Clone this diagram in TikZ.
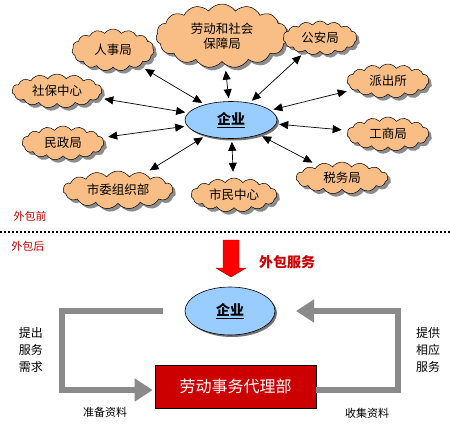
\documentclass[tikz,border=0pt]{standalone}
\usepackage{fontspec}
\setmainfont{Noto Sans CJK SC}
\usetikzlibrary{shapes.symbols,shapes.geometric,arrows.meta,shadows}
\definecolor{peach}{HTML}{F9BE86}
\definecolor{skyb}{HTML}{99CCFF}
\definecolor{darkred}{HTML}{CC0000}
\definecolor{garr}{HTML}{8A8A8A}
\tikzset{
  cloudbox/.style={cloud, cloud puffs=15, cloud puff arc=110, cloud ignores aspect,
    draw=black, line width=0.5pt, fill=peach, inner sep=0pt, font=\fontsize{12.5}{15}\selectfont,
    align=center, drop shadow={shadow xshift=3pt, shadow yshift=-3pt, fill=black!45, opacity=1}},
  ent/.style={ellipse, draw=black, line width=0.6pt, fill=skyb, inner sep=0pt,
    font=\fontsize{14}{16}\selectfont\bfseries,
    drop shadow={shadow xshift=2pt, shadow yshift=-2pt, fill=black!55, opacity=1}},
  dbl/.style={{Triangle[length=9pt,width=8pt]}-{Triangle[length=9pt,width=8pt]}, line width=0.7pt, shorten <=3pt, shorten >=6pt},
  garrow/.style={draw=garr, line width=6pt, -{Triangle[length=18pt,width=22pt]}},
  redlbl/.style={text=darkred, font=\fontsize{11}{13}\selectfont},
  sidelbl/.style={align=center, font=\fontsize{12}{17}\selectfont},
  botlbl/.style={font=\fontsize{11}{13}\selectfont}
}
\begin{document}
\begin{tikzpicture}[x=1pt,y=-1pt]
\useasboundingbox (0,0) rectangle (450,426);
% top part
\node[ent, minimum width=92pt, minimum height=37pt] (qy) at (231,120) {\underline{企业}};
\node[cloudbox, minimum width=132pt, minimum height=64pt] (ldh) at (222,36) {劳动和社会\\保障局};
\node[cloudbox, minimum width=82pt, minimum height=42pt] (rsj) at (113,50) {人事局};
\node[cloudbox, minimum width=74pt, minimum height=34pt] (gaj) at (320,38) {公安局};
\node[cloudbox, minimum width=90pt, minimum height=34pt] (sbzx) at (57,91) {社保中心};
\node[cloudbox, minimum width=82pt, minimum height=34pt] (pcs) at (388,81) {派出所};
\node[cloudbox, minimum width=82pt, minimum height=34pt] (mzj) at (63,143) {民政局};
\node[cloudbox, minimum width=82pt, minimum height=34pt] (gsj) at (388,134) {工商局};
\node[cloudbox, minimum width=110pt, minimum height=38pt] (swzzb) at (118,190) {市委组织部};
\node[cloudbox, minimum width=86pt, minimum height=34pt] (smzx) at (234,195) {市民中心};
\node[cloudbox, minimum width=92pt, minimum height=32pt] (swj) at (342,178) {税务局};
\foreach \c in {ldh,rsj,gaj,sbzx,pcs,mzj,gsj,swzzb,smzx,swj}{
  \draw[dbl] (qy) -- (\c);
}
% divider
\node[redlbl] (wbq) at (30,216) {外包前};
\draw[line width=1.6pt, dash pattern=on 1.6pt off 2.4pt] (0,232) -- (450,232);
\node[redlbl] (wbh) at (28,246) {外包后};
% red arrow
\draw[fill=red, draw=red!60!black, line width=0.4pt]
  (223,240) -- (239,240) -- (239,268) -- (246,268) -- (231,277) -- (216,268) -- (223,268) -- cycle;
\node[text=darkred, font=\fontsize{14}{16}\selectfont\bfseries] (wbfw) at (287,262) {外包服务};
% bottom part
\node[ent, minimum width=90pt, minimum height=48pt] (qy2) at (230,311) {\underline{企业}};
\node[draw=black, line width=0.6pt, fill=darkred, text=white, minimum width=161pt, minimum height=43pt,
  font=\fontsize{16}{18}\selectfont] (box) at (235.5,386.5) {劳动事务代理部};
\coordinate (L1) at (163,311);
\coordinate (R1) at (296,311);
\draw[garrow] (L1) -- (62,311) -- (62,390) -- ([yshift=-3.5pt,xshift=-2pt]box.west);
\draw[garrow] ([yshift=-3.5pt]box.east) -- (398,390) -- (398,311) -- (R1);
\node[sidelbl] (tc) at (31,350) {提出\\服务\\需求};
\node[sidelbl] (tg) at (428,350) {提供\\相应\\服务};
\node[botlbl] (zb) at (105,412) {准备资料};
\node[botlbl] (sj) at (367,413) {收集资料};
\end{tikzpicture}
\end{document}
